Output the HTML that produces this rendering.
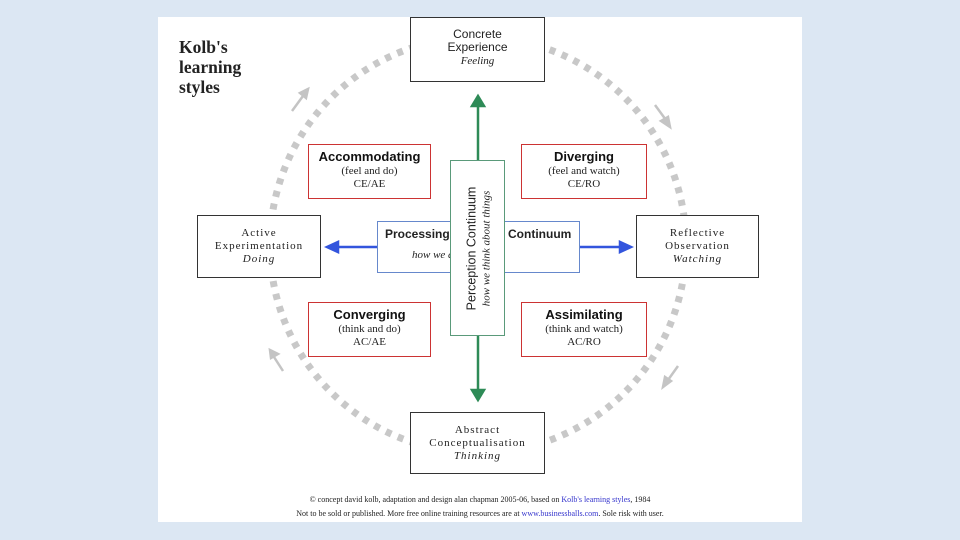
<!DOCTYPE html>
<html><head><meta charset="utf-8"><style>
body{margin:0;width:960px;height:540px;background:#dce7f3;position:relative;overflow:hidden;font-family:"Liberation Sans",sans-serif}
.p{position:absolute;left:158px;top:17px;width:644px;height:505px;background:#fff}
.b{position:absolute;background:#fff;box-sizing:border-box;text-align:center;font-size:11px;color:#222;line-height:13px}
.k{border:1.5px solid #333}
.r{border:1.5px solid #c33;}
.r b{font-size:13px;display:block;margin-top:5px;margin-bottom:2px;color:#111}
.s{font-family:"Liberation Serif",serif}
</style></head><body>
<div class="p"></div>
<svg width="960" height="540" style="position:absolute;left:0;top:0">
<circle cx="478" cy="245" r="208" fill="none" stroke="#c8c8c8" stroke-width="7" stroke-dasharray="6 7"/>
<g stroke="#c4c4c4" stroke-width="2.5" fill="#c4c4c4">
<line x1="292" y1="111" x2="303" y2="96"/><polygon points="308,89 300,93 306,98"/>
<line x1="655" y1="105" x2="666" y2="120"/><polygon points="670,127 661,121 668,117"/>
<line x1="678" y1="366" x2="668" y2="380"/><polygon points="663,387 665,377 671,381"/>
<line x1="283" y1="371" x2="274" y2="357"/><polygon points="270,350 278,354 271,358"/>
</g>
<g stroke="#2e8b57" stroke-width="2.5" fill="#2e8b57">
<line x1="478" y1="104" x2="478" y2="160"/><polygon points="478,96 472,106 484,106"/>
<line x1="478" y1="336" x2="478" y2="392"/><polygon points="478,400 472,390 484,390"/>
</g>
<g stroke="#3355dd" stroke-width="2.5" fill="#3355dd">
<line x1="336" y1="247" x2="377" y2="247"/><polygon points="327,247 338,242 338,252"/>
<line x1="580" y1="247" x2="622" y2="247"/><polygon points="631,247 620,242 620,252"/>
</g>
</svg>
<div class="s" style="position:absolute;left:179px;top:37px;font-size:17.5px;font-weight:bold;line-height:20px;color:#222">Kolb's<br>learning<br>styles</div>
<div class="b k" style="left:410px;top:17px;width:135px;height:65px;padding-top:10px;font-size:12px">Concrete<br>Experience<br><i class="s" style="font-size:11px">Feeling</i></div>
<div class="b k s" style="left:410px;top:412px;width:135px;height:62px;padding-top:11px;letter-spacing:1px">Abstract<br>Conceptualisation<br><i>Thinking</i></div>
<div class="b k s" style="left:197px;top:215px;width:124px;height:63px;padding-top:11px;letter-spacing:1px">Active<br>Experimentation<br><i>Doing</i></div>
<div class="b k s" style="left:636px;top:215px;width:123px;height:63px;padding-top:11px;letter-spacing:1px">Reflective<br>Observation<br><i>Watching</i></div>
<div class="b r s" style="left:308px;top:144px;width:123px;height:55px"><b style="font-family:'Liberation Sans'">Accommodating</b>(feel and do)<br>CE/AE</div>
<div class="b r s" style="left:521px;top:144px;width:126px;height:55px"><b style="font-family:'Liberation Sans'">Diverging</b>(feel and watch)<br>CE/RO</div>
<div class="b r s" style="left:308px;top:302px;width:123px;height:55px"><b style="font-family:'Liberation Sans'">Converging</b>(think and do)<br>AC/AE</div>
<div class="b r s" style="left:521px;top:302px;width:126px;height:55px"><b style="font-family:'Liberation Sans'">Assimilating</b>(think and watch)<br>AC/RO</div>
<div class="b" style="left:377px;top:221px;width:203px;height:52px;border:1.5px solid #6688cc;text-align:left">
<b style="position:absolute;left:7px;top:6px;font-size:12px">Processing</b>
<b style="position:absolute;left:130px;top:6px;font-size:12px">Continuum</b>
<i class="s" style="position:absolute;left:34px;top:27px;font-size:11px">how we do things</i></div>
<div class="b" style="left:450px;top:160px;width:55px;height:176px;border:1.5px solid #5a9a7a">
<div style="position:absolute;left:-60px;top:73px;width:176px;transform:rotate(-90deg);font-size:12.5px;line-height:14px;text-align:center">Perception Continuum<br><i class="s" style="font-size:11px">how we think about things</i></div></div>
<div class="s" style="position:absolute;left:270px;top:493px;width:420px;text-align:center;font-size:8px;line-height:14px;color:#222">© concept david kolb, adaptation and design alan chapman 2005-06, based on <span style="color:#33c">Kolb's learning styles</span>, 1984<br>Not to be sold or published. More free online training resources are at <span style="color:#33c">www.businessballs.com</span>. Sole risk with user.</div>
</body></html>
